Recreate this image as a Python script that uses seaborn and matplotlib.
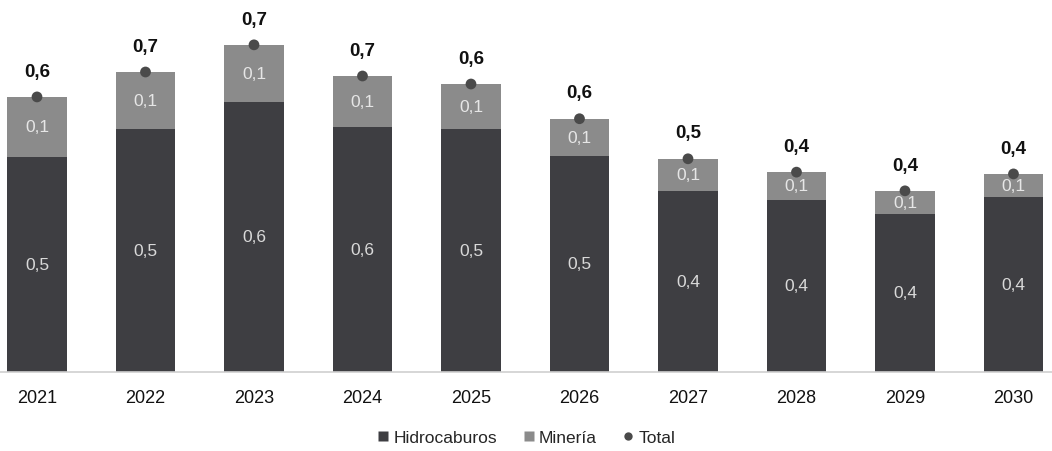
import matplotlib
matplotlib.use("Agg")
import matplotlib.pyplot as plt
from matplotlib.lines import Line2D
import seaborn as sns
import pandas as pd
import numpy as np

years = ["2021", "2022", "2023", "2024", "2025", "2026", "2027", "2028", "2029", "2030"]
hidrocarburos = [0.483, 0.545, 0.607, 0.551, 0.546, 0.486, 0.407, 0.387, 0.355, 0.393]
mineria = [0.135, 0.129, 0.128, 0.114, 0.101, 0.083, 0.072, 0.062, 0.052, 0.052]

C_HID = "#3e3e42"
C_MIN = "#8b8b8b"
C_DOT = "#4a4a4a"

total = [h + m for h, m in zip(hidrocarburos, mineria)]
df = pd.DataFrame({"year": years, "Hidrocarburos": hidrocarburos,
                   "Minería": mineria, "Total": total})

def fmt(v):
    return f"{v:.1f}".replace(".", ",")

sns.set_theme(style="white")
plt.rcParams["font.family"] = ["Liberation Sans", "DejaVu Sans"]

fig = plt.figure(figsize=(10.52, 4.52), dpi=100)
ax = fig.add_axes([0, 0.1748, 1, 0.8252])

# stacked bars: total (mineria colour) then hidrocarburos overlaid
sns.barplot(data=df, x="year", y="Total", color=C_MIN, width=0.545,
            saturation=1, ax=ax, linewidth=0)
sns.barplot(data=df, x="year", y="Hidrocarburos", color=C_HID, width=0.545,
            saturation=1, ax=ax, linewidth=0)

pos = np.arange(len(years))
sns.scatterplot(x=pos, y=df["Total"], color=C_DOT, s=60, edgecolor="none",
                ax=ax, zorder=5, legend=False)

for i in range(len(years)):
    h = hidrocarburos[i]
    m = mineria[i]
    t = total[i]
    ax.text(i, h / 2, fmt(h), ha="center", va="center", fontsize=12.5,
            color="#d9d9d9")
    ax.text(i, h + m / 2, fmt(m), ha="center", va="center", fontsize=12.5,
            color="#e6e6e6")
    ax.text(i, t + 0.058, fmt(t), ha="center", va="center", fontsize=13.5,
            fontweight="bold", color="#111111")

ax.set_xlim(-0.341, 9.355)
ax.set_ylim(0, 0.838)
ax.set_xlabel("")
ax.set_ylabel("")
ax.set_yticks([])
for s in ["top", "left", "right"]:
    ax.spines[s].set_visible(False)
ax.spines["bottom"].set_color("#cfcfcf")
ax.spines["bottom"].set_linewidth(1.2)
ax.tick_params(axis="x", length=0, pad=12, labelsize=13, labelcolor="#111111")

handles = [
    Line2D([0], [0], marker="s", linestyle="none", markersize=7,
           markerfacecolor=C_HID, markeredgecolor="none", label="Hidrocaburos"),
    Line2D([0], [0], marker="s", linestyle="none", markersize=7,
           markerfacecolor=C_MIN, markeredgecolor="none", label="Minería"),
    Line2D([0], [0], marker="o", linestyle="none", markersize=6,
           markerfacecolor=C_DOT, markeredgecolor="none", label="Total"),
]
fig.legend(handles=handles, loc="center", bbox_to_anchor=(0.5, 0.03),
           ncol=3, frameon=False, fontsize=12.5, handlelength=0.8,
           handletextpad=0.2, columnspacing=1.4)

fig.savefig("out.png", dpi=100)
